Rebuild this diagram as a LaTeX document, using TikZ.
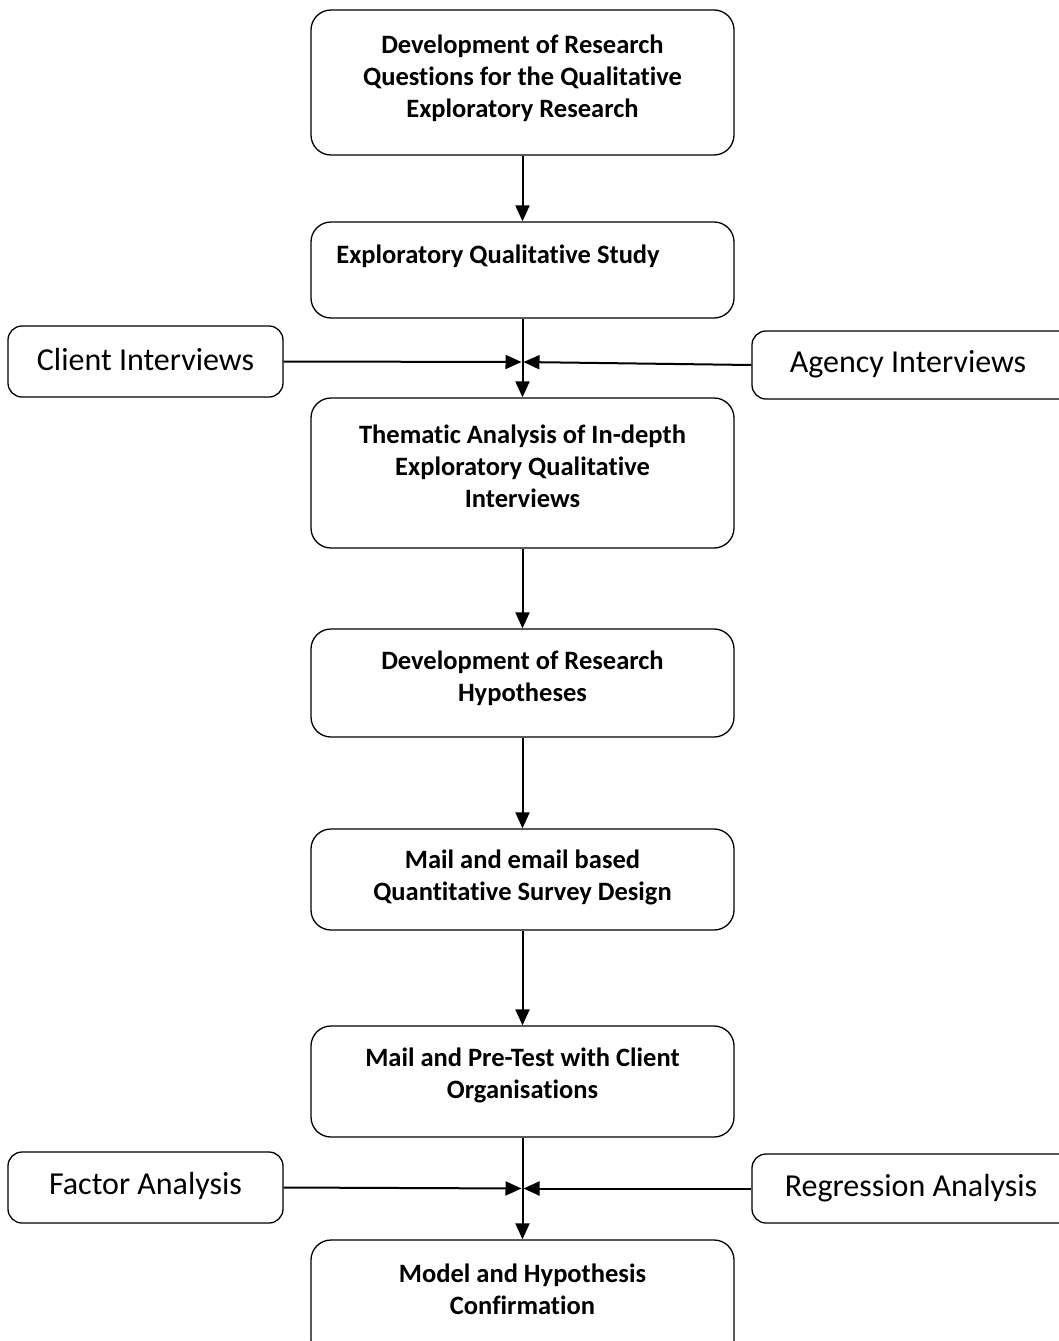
\documentclass[tikz,border=0pt]{standalone}
\usepackage{fontspec}
\setmainfont{Carlito}[Ligatures=NoCommon]
\usetikzlibrary{arrows.meta}
\begin{document}
\begin{tikzpicture}[x=1pt,y=-1pt,
 box/.style={draw, line width=1.3pt, rounded corners=20pt, inner sep=0pt, minimum width=423pt},
 sbox/.style={draw, line width=1.3pt, rounded corners=14pt, inner sep=0pt},
 main/.style={font=\fontsize{26.5}{32}\selectfont\bfseries, align=center, inner sep=0pt},
 side/.style={font=\fontsize{32}{36}\selectfont, inner sep=0pt},
 arr/.style={line width=2pt, -{Triangle[length=16pt,width=14pt]}}]
\useasboundingbox (0,0) rectangle (1059,1341);
\fill[white] (0,0) rectangle (1059,1341);
% boxes
\node[box, minimum height=145pt] (b1) at (522.5,82.5) {};
\node[box, minimum height=96pt] (b2) at (522.5,270) {};
\node[sbox, minimum width=275pt, minimum height=71pt] (ci) at (145.5,361.5) {};
\node[sbox, minimum width=323pt, minimum height=68pt] (ai) at (913.5,365) {};
\node[box, minimum height=150pt] (b3) at (522.5,473) {};
\node[box, minimum height=108pt] (b4) at (522.5,683) {};
\node[box, minimum height=101pt] (b5) at (522.5,879.5) {};
\node[box, minimum height=111pt] (b6) at (522.5,1081.5) {};
\node[sbox, minimum width=275pt, minimum height=71pt] (fa) at (145.5,1187.5) {};
\node[sbox, minimum width=323pt, minimum height=69pt] (ra) at (913.5,1188.5) {};
\node[box, minimum height=120pt] (b7) at (522.5,1300) {};
% texts
\node[main] (t1) at (522.5,78) {Development of Research\\Questions for the Qualitative\\Exploratory Research};
\node[main] (t2) at (498,256) {Exploratory Qualitative Study};
\node[side] (tci) at (145.5,360) {Client Interviews};
\node[side] (tai) at (908,364) {Agency Interviews};
\node[main] (t3) at (522.5,466) {Thematic Analysis of In-depth\\Exploratory Qualitative\\Interviews};
\node[main] (t4) at (522.5,678) {Development of Research\\Hypotheses};
\node[main] (t5) at (522.5,877) {Mail and email based\\Quantitative Survey Design};
\node[main] (t6) at (522.5,1075) {Mail and Pre-Test with Client\\Organisations};
\node[side] (tfa) at (145.5,1186) {Factor Analysis};
\node[side] (tra) at (911,1188) {Regression Analysis};
\node[main] (t7) at (522.5,1289) {Model and Hypothesis\\Confirmation};
% junctions
\coordinate (j1) at (522.5,362);
\coordinate (j2) at (522.5,1188.5);
% connectors
\draw[arr] (b1.south) -- (b2.north);
\draw[arr] (b2.south) -- (b3.north);
\draw[arr, shorten >=1pt] (ci.east) -- (j1);
\draw[arr, shorten >=1pt] (ai.west) -- (j1);
\draw[arr] (b3.south) -- (b4.north);
\draw[arr] (b4.south) -- (b5.north);
\draw[arr] (b5.south) -- (b6.north);
\draw[arr] (b6.south) -- (b7.north);
\draw[arr, shorten >=1pt] (fa.east) -- (j2);
\draw[arr, shorten >=1pt] (ra.west) -- (j2);
\end{tikzpicture}
\end{document}
